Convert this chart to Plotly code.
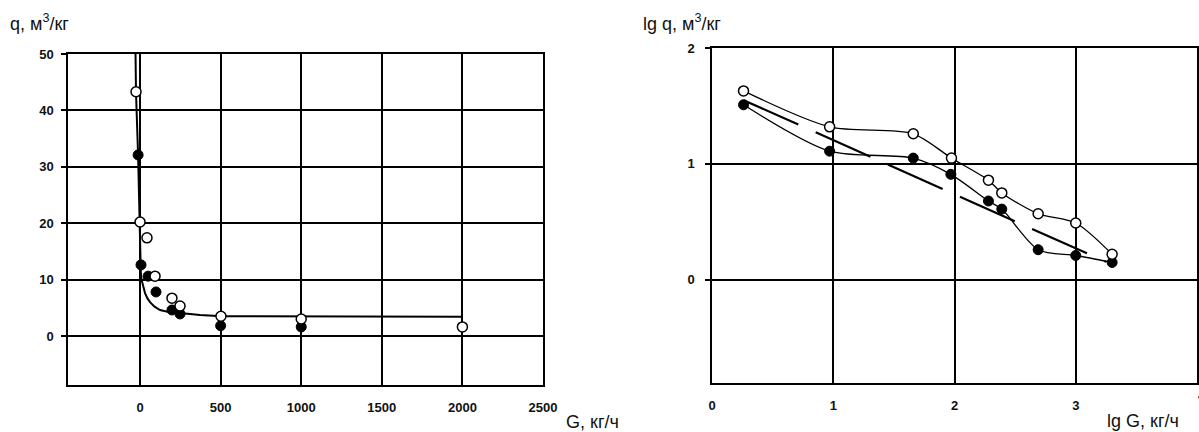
import plotly.graph_objects as go

# ---- Left chart data: q vs G ----
G_open = [-25, 0, 43, 93, 198, 248, 502, 1000, 2000]
q_open = [43.3, 20.2, 17.4, 10.6, 6.7, 5.3, 3.5, 3.0, 1.6]
G_fill = [-12, 6, 50, 99, 198, 248, 500, 1000]
q_fill = [32.1, 12.6, 10.6, 7.8, 4.6, 3.9, 1.8, 1.6]
curve_G = [-28, -25, -12, -2, 0, 2, 5, 10, 20, 31, 45, 62, 90, 124, 170, 230, 300, 372, 509, 1000, 1500, 2000]
curve_q = [50, 43, 32, 20.5, 16, 12.6, 11, 9.9, 8.6, 7.6, 6.7, 6.0, 5.2, 4.6, 4.3, 4.1, 3.85, 3.7, 3.5, 3.45, 3.42, 3.4]

# ---- Right chart data: lg q vs lg G ----
lgG_open = [0.26, 0.97, 1.66, 1.975, 2.28, 2.39, 2.69, 3.0, 3.30]
lgq_open = [1.63, 1.32, 1.26, 1.05, 0.86, 0.75, 0.57, 0.49, 0.22]
lgG_fill = [0.26, 0.97, 1.66, 1.97, 2.28, 2.39, 2.69, 3.0, 3.30]
lgq_fill = [1.51, 1.11, 1.05, 0.91, 0.68, 0.61, 0.26, 0.21, 0.15]
lgG_trend = [0.26, 3.25]
lgq_trend = [1.55, 0.155]

left_xticks = [0, 500, 1000, 1500, 2000, 2500]
left_yticks = [0, 10, 20, 30, 40, 50]
right_xticks = [0, 1, 2, 3, 4]
right_yticks = [0, 1, 2]

FONT = "Liberation Sans"
W, H = 1199, 432

fig = go.Figure()

open_marker = dict(symbol="circle", size=10, color="white", line=dict(color="black", width=1.5))
fill_marker = dict(symbol="circle", size=10, color="black", line=dict(color="black", width=1))

# left
fig.add_trace(go.Scatter(x=curve_G, y=curve_q, mode="lines", xaxis="x", yaxis="y",
                         line=dict(color="black", width=2),
                         showlegend=False, hoverinfo="skip"))
fig.add_trace(go.Scatter(x=G_fill, y=q_fill, mode="markers", xaxis="x", yaxis="y",
                         marker=fill_marker, showlegend=False))
fig.add_trace(go.Scatter(x=G_open, y=q_open, mode="markers", xaxis="x", yaxis="y",
                         marker=open_marker, showlegend=False))

# right
fig.add_trace(go.Scatter(x=lgG_trend, y=lgq_trend, mode="lines", xaxis="x2", yaxis="y2",
                         line=dict(color="black", width=2.2, dash="60px,19px"),
                         showlegend=False, hoverinfo="skip"))
fig.add_trace(go.Scatter(x=lgG_fill, y=lgq_fill, mode="lines+markers", xaxis="x2", yaxis="y2",
                         line=dict(color="black", width=1.3, shape="spline", smoothing=0.8),
                         marker=fill_marker, showlegend=False))
fig.add_trace(go.Scatter(x=lgG_open, y=lgq_open, mode="lines+markers", xaxis="x2", yaxis="y2",
                         line=dict(color="black", width=1.3, shape="spline", smoothing=0.8),
                         marker=open_marker, showlegend=False))

tickfont = dict(family=FONT, size=13, color="#111", weight="bold")
axis_common = dict(showline=True, mirror=True, linecolor="black", linewidth=1.5,
                   showgrid=True, gridcolor="black", gridwidth=1.5, zeroline=False,
                   tickfont=tickfont, automargin=False)

def px_x(p):
    return p / W

def px_y(p):
    return 1 - p / H

fig.update_layout(
    template="none",
    width=W, height=H,
    margin=dict(l=0, r=0, t=0, b=0, pad=0),
    paper_bgcolor="white", plot_bgcolor="white",
    xaxis=dict(domain=[px_x(68), px_x(543)], range=[-447, 2500], tickvals=left_xticks,
               ticks="", ticklabelstandoff=10, anchor="y", **axis_common),
    yaxis=dict(domain=[px_y(385), px_y(54)], range=[-8.7, 50], tickvals=left_yticks,
               ticks="outside", ticklen=5, tickcolor="black", tickwidth=1.5,
               ticklabelstandoff=5, anchor="x", **axis_common),
    xaxis2=dict(domain=[px_x(712), px_x(1197)], range=[0, 4], tickvals=right_xticks,
                ticks="", ticklabelstandoff=10, anchor="y2", **axis_common),
    yaxis2=dict(domain=[px_y(383), px_y(48)], range=[-0.89, 2], tickvals=right_yticks,
                ticks="outside", ticklen=5, tickcolor="black", tickwidth=1.5,
                ticklabelstandoff=8, anchor="x2", **axis_common),
)

# the last tick label of the right chart sits on the page edge (partly cut in the original)
fig.add_annotation(xref="x2", yref="paper", x=right_xticks[-1], y=px_y(405),
                   text=str(right_xticks[-1]), showarrow=False, xanchor="left",
                   xshift=-1, font=tickfont)

title_font = dict(family=FONT, size=18, color="#111")
annots = [
    dict(text="q, м<sup>3</sup>/кг", x=px_x(8), y=px_y(23), xanchor="left", yanchor="middle"),
    dict(text="G, кг/ч", x=px_x(621), y=px_y(422), xanchor="right", yanchor="middle"),
    dict(text="lg q, м<sup>3</sup>/кг", x=px_x(641), y=px_y(23), xanchor="left", yanchor="middle"),
    dict(text="lg G, кг/ч", x=px_x(1181), y=px_y(421), xanchor="right", yanchor="middle"),
]
for a in annots:
    fig.add_annotation(xref="paper", yref="paper", showarrow=False, font=title_font, **a)

fig.write_html(
    "out.html",
    config={"displayModeBar": False},
    post_script="document.body.style.margin='0';document.body.style.overflow='hidden';",
)
